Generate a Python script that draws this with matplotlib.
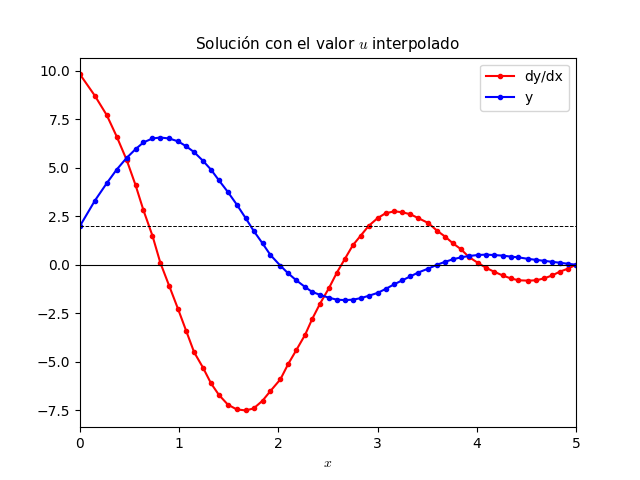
import matplotlib
matplotlib.use("Agg")
import matplotlib.pyplot as plt

plt.rcParams['mathtext.fontset'] = 'cm'

x = [0, 0.15, 0.27, 0.37, 0.47, 0.56, 0.64, 0.73, 0.81, 0.90, 0.99, 1.07, 1.15, 1.24, 1.32, 1.40,
     1.49, 1.58, 1.67, 1.75, 1.84, 1.92, 2.02, 2.10, 2.18, 2.27, 2.34, 2.42, 2.51, 2.59, 2.67, 2.75,
     2.83, 2.91, 3.00, 3.08, 3.17, 3.25, 3.33, 3.41, 3.51, 3.60, 3.68, 3.76, 3.84, 3.92, 4.01, 4.09,
     4.17, 4.26, 4.34, 4.42, 4.52, 4.60, 4.68, 4.76, 4.84, 4.92, 5.0]
dydx = [9.8, 8.7, 7.7, 6.6, 5.4, 4.1, 2.8, 1.5, 0.1, -1.1, -2.3, -3.4, -4.5, -5.3, -6.1, -6.7,
        -7.2, -7.45, -7.5, -7.4, -7.0, -6.5, -5.9, -5.1, -4.4, -3.6, -2.8, -2.0, -1.2, -0.4, 0.3, 1.0,
        1.5, 2.0, 2.4, 2.65, 2.75, 2.7, 2.6, 2.4, 2.15, 1.75, 1.45, 1.1, 0.8, 0.4, 0.1, -0.15,
        -0.35, -0.55, -0.7, -0.8, -0.82, -0.8, -0.7, -0.55, -0.35, -0.2, 0.0]
y = [2.0, 3.3, 4.2, 4.9, 5.5, 5.95, 6.3, 6.5, 6.55, 6.5, 6.35, 6.1, 5.8, 5.35, 4.9, 4.35,
     3.75, 3.1, 2.4, 1.75, 1.1, 0.5, -0.05, -0.45, -0.8, -1.15, -1.4, -1.55, -1.7, -1.8, -1.82, -1.8,
     -1.72, -1.6, -1.45, -1.25, -1.0, -0.8, -0.6, -0.4, -0.2, 0.0, 0.15, 0.28, 0.38, 0.45, 0.5, 0.52,
     0.5, 0.47, 0.42, 0.38, 0.3, 0.25, 0.2, 0.15, 0.1, 0.05, 0.0]

fig = plt.figure(figsize=(6.4, 4.8), dpi=100)
plt.plot(x, dydx, marker='o', markersize=3, color='red', label='dy/dx')
plt.plot(x, y, marker='o', markersize=3, color='blue', label='y')
plt.axhline(0, color='black', linewidth=0.8)
plt.axhline(2, color='black', linewidth=0.7, linestyle='--')
plt.xlim(0, 5)
plt.xlabel('$x$')
plt.title('Solución con el valor $u$ interpolado', fontsize=11)
plt.legend(loc='upper right')
fig.savefig('out.png', dpi=100)
